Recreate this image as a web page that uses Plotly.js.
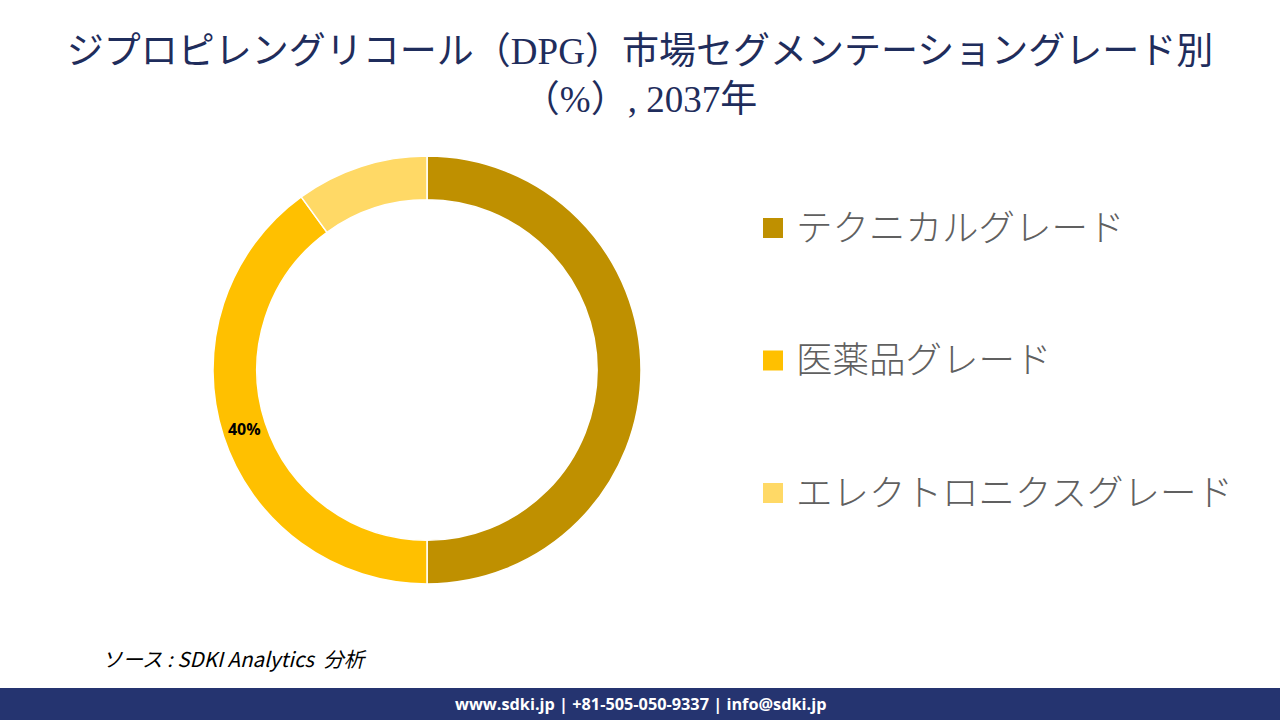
<!DOCTYPE html>
<html>
<head>
<meta charset="utf-8">
<script src="https://cdn.plot.ly/plotly-3.0.1.min.js"></script>
<style>
  html, body { margin: 0; padding: 0; background: #ffffff; }
  #chart { width: 1280px; height: 720px; }
</style>
</head>
<body>
<div id="chart"></div>
<script>
// Grade share of the DPG market, 2037 (%)
var grades = ['テクニカルグレード', '医薬品グレード', 'エレクトロニクスグレード'];
var shares = [50, 40, 10];
var sliceColors = ['#BF9000', '#FFC000', '#FFD966'];
var shownLabels = [false, true, false]; // only the 40% slice carries a label

var titleText = 'ジプロピレングリコール（DPG）市場セグメンテーショングレード別<br>（%）, 2037年';
var sourceText = 'ソース : SDKI Analytics  分析';
var footerText = 'www.sdki.jp | +81-505-050-9337 | info@sdki.jp';

var W = 1280, H = 720;
var cx = 427, cy = 370, rOut = 214;

var donut = {
  type: 'pie',
  labels: grades,
  values: shares,
  sort: false,
  direction: 'clockwise',
  rotation: 0,
  hole: 0.795,
  marker: {colors: sliceColors, line: {color: '#ffffff', width: 1.5}},
  texttemplate: shownLabels.map(function (s) { return s ? '%{value}%' : ''; }),
  textposition: 'inside',
  insidetextorientation: 'horizontal',
  textfont: {family: 'Open Sans, Lato, sans-serif', size: 16, color: '#000000', weight: 700},
  domain: {
    x: [(cx - rOut) / W, (cx + rOut) / W],
    y: [(H - cy - rOut) / H, (H - cy + rOut) / H]
  },
  showlegend: false,
  hoverinfo: 'label+percent'
};

// hand-built legend: squares + labels, one row per grade
var legendTop = 228, legendStep = 132.5, sq = 20;
var shapes = [];
var annotations = [];
grades.forEach(function (g, i) {
  var yc = legendTop + i * legendStep;
  shapes.push({
    type: 'rect', xref: 'paper', yref: 'paper',
    x0: 763 / W, x1: (763 + sq) / W,
    y0: 1 - (yc + sq / 2) / H, y1: 1 - (yc - sq / 2) / H,
    fillcolor: sliceColors[i], line: {width: 0}
  });
  annotations.push({
    xref: 'paper', yref: 'paper',
    x: 794 / W, y: 1 - (yc - 3) / H,
    xanchor: 'left', yanchor: 'middle',
    text: g, showarrow: false,
    font: {family: 'Noto Sans CJK JP, sans-serif', size: 36.5, color: '#606060', weight: 300}
  });
});

// footer bar
shapes.push({
  type: 'rect', xref: 'paper', yref: 'paper',
  x0: 0, x1: 1, y0: 0, y1: 32 / H,
  fillcolor: '#253470', line: {width: 0}
});

annotations.push({
  xref: 'paper', yref: 'paper',
  x: 0.5, y: 16 / H, xanchor: 'center', yanchor: 'middle',
  text: '<b>' + footerText + '</b>', showarrow: false,
  font: {family: 'Open Sans, Lato, sans-serif', size: 16.3, color: '#ffffff'}
});

annotations.push({
  xref: 'paper', yref: 'paper',
  x: 100 / W, y: 1 - 658 / H, xanchor: 'left', yanchor: 'middle',
  text: '<i>' + sourceText + '</i>', showarrow: false,
  font: {family: 'Noto Sans CJK JP, Open Sans, sans-serif', size: 20.5, color: '#000000'}
});

var layout = {
  width: W,
  height: H,
  margin: {l: 0, r: 0, t: 0, b: 0},
  paper_bgcolor: '#ffffff',
  plot_bgcolor: '#ffffff',
  title: {
    text: titleText,
    x: 0.5, xanchor: 'center',
    y: 1 - 64 / H, yanchor: 'middle',
    font: {family: 'Liberation Serif, Noto Sans CJK JP, serif', size: 37, color: '#1F2D5C'}
  },
  uniformtext: {mode: 'show', minsize: 16},
  showlegend: false,
  shapes: shapes,
  annotations: annotations
};

Plotly.newPlot('chart', [donut], layout, {displayModeBar: false, staticPlot: true});
</script>
</body>
</html>
